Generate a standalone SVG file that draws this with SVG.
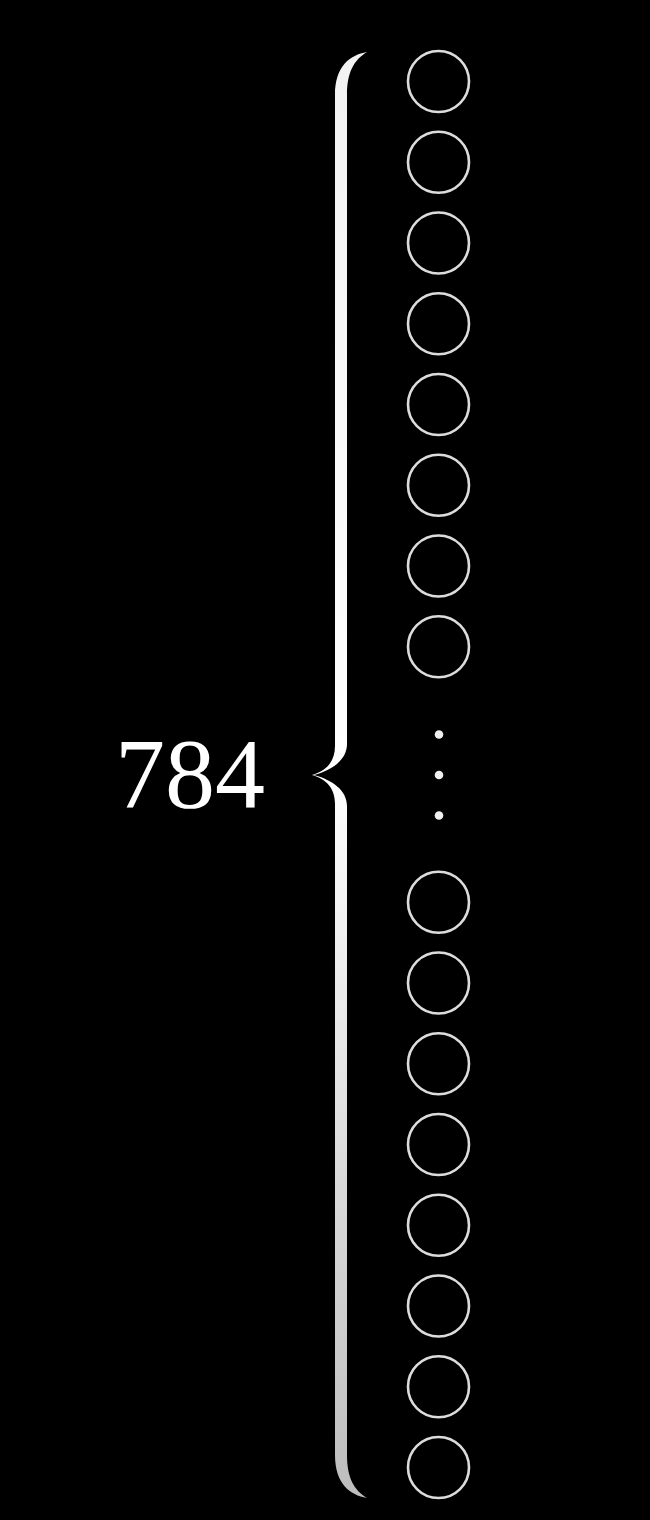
<svg xmlns="http://www.w3.org/2000/svg" width="650" height="1520" viewBox="0 0 650 1520">
<defs>
<linearGradient id="bg" x1="0" y1="52" x2="0" y2="1498" gradientUnits="userSpaceOnUse">
<stop offset="0" stop-color="#f2f2f2"/>
<stop offset="0.5" stop-color="#ffffff"/>
<stop offset="1" stop-color="#bdbdbd"/>
</linearGradient>
<style>
.n{fill:none;stroke:#dcdcdc;stroke-width:2.6}
.d{fill:#f0f0f0}
.t{font-family:"Liberation Serif","DejaVu Serif",serif;font-size:100px;fill:#ffffff}
</style>
</defs>
<rect width="650" height="1520" fill="#000"/>
<g id="label"><text class="t" x="190" y="807" text-anchor="middle">784</text></g>
<g id="brace">
<path fill="url(#bg)" d="M367,52 C350,55 335,66 335,95 L335,746 C335,762 326,771 312,775 C326,779 335,788 335,804 L335,1455 C335,1484 350,1495 367,1498 C354,1490 347,1478 347,1455 L347,806 C347,790 332,780 314,775 C332,770 347,760 347,744 L347,95 C347,72 354,60 367,52 Z"/>
</g>
<g id="nodes">
<circle id="n1" class="n" cx="438.5" cy="81.5" r="30.5"/>
<circle id="n2" class="n" cx="438.5" cy="162.25" r="30.5"/>
<circle id="n3" class="n" cx="438.5" cy="243" r="30.5"/>
<circle id="n4" class="n" cx="438.5" cy="323.75" r="30.5"/>
<circle id="n5" class="n" cx="438.5" cy="404.5" r="30.5"/>
<circle id="n6" class="n" cx="438.5" cy="485.25" r="30.5"/>
<circle id="n7" class="n" cx="438.5" cy="566" r="30.5"/>
<circle id="n8" class="n" cx="438.5" cy="646.75" r="30.5"/>
<circle id="n9" class="n" cx="438.5" cy="902.25" r="30.5"/>
<circle id="n10" class="n" cx="438.5" cy="983" r="30.5"/>
<circle id="n11" class="n" cx="438.5" cy="1063.75" r="30.5"/>
<circle id="n12" class="n" cx="438.5" cy="1144.5" r="30.5"/>
<circle id="n13" class="n" cx="438.5" cy="1225.25" r="30.5"/>
<circle id="n14" class="n" cx="438.5" cy="1306" r="30.5"/>
<circle id="n15" class="n" cx="438.5" cy="1386.75" r="30.5"/>
<circle id="n16" class="n" cx="438.5" cy="1467.5" r="30.5"/>
</g>
<g id="ellipsis">
<circle class="d" cx="439" cy="734.5" r="4.3"/>
<circle class="d" cx="439" cy="775" r="4.3"/>
<circle class="d" cx="439" cy="815.5" r="4.3"/>
</g>
<g id="connectors"/>
</svg>
